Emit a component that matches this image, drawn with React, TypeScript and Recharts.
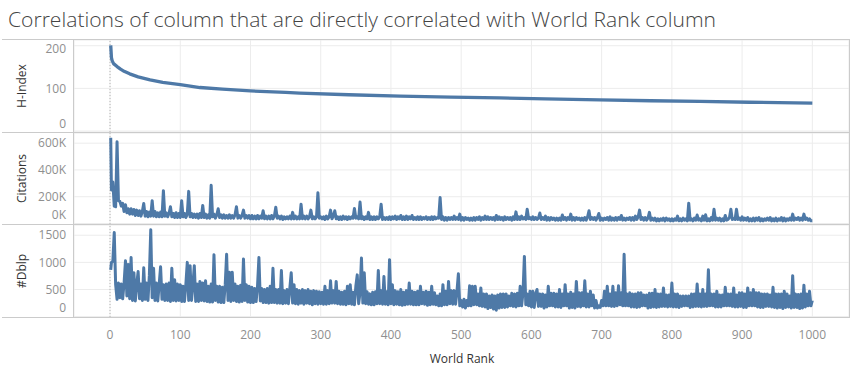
import React from 'react';
import { LineChart, Line, XAxis, YAxis, CartesianGrid, ReferenceLine } from 'recharts';

// ---------- data ----------
const hRank = [1, 2, 3, 5, 10, 15, 20, 28, 40, 57, 75, 100, 128, 160, 200, 250, 270, 340, 413, 485, 555, 620, 697, 770, 840, 910, 1000];
const hIndex = [201, 172, 165, 158, 151, 145, 140, 134, 127, 120, 114, 109, 102, 98, 94, 90.5, 89, 85, 82, 79.5, 77.5, 75.5, 73, 71, 69.5, 67.5, 65.5];

// citations (thousands) and #dblp sampled every 2 world-rank positions (rank 1, 2, 4, ... 1000)
const noisyStep = 2;
const citationsK = [
  640, 250, 310, 130, 125, 610, 170, 165, 130, 150, 90, 140, 80, 110, 70, 110, 70, 105, 60, 100,
  60, 95, 55, 90, 150, 55, 90, 50, 85, 55, 170, 55, 90, 50, 80, 50, 85, 50, 245, 55,
  80, 50, 75, 125, 50, 75, 45, 80, 45, 75, 45, 170, 50, 75, 45, 70, 240, 50, 75, 45,
  70, 45, 70, 40, 75, 45, 135, 45, 70, 40, 65, 40, 285, 50, 70, 40, 65, 110, 45, 65,
  40, 65, 40, 60, 40, 65, 40, 60, 40, 65, 125, 40, 60, 40, 60, 100, 40, 60, 40, 60,
  35, 60, 35, 55, 35, 60, 35, 55, 40, 95, 35, 55, 35, 55, 35, 60, 35, 55, 122, 40,
  55, 35, 55, 30, 50, 35, 50, 35, 55, 35, 83, 35, 55, 35, 50, 35, 144, 35, 55, 35,
  55, 35, 50, 100, 35, 50, 35, 50, 230, 40, 50, 35, 50, 30, 55, 35, 50, 100, 35, 55,
  95, 35, 50, 30, 50, 30, 55, 35, 50, 30, 50, 35, 50, 40, 112, 40, 50, 35, 160, 35,
  50, 30, 50, 35, 83, 30, 50, 30, 50, 30, 50, 35, 50, 144, 30, 45, 30, 45, 30, 50,
  30, 50, 35, 55, 30, 50, 35, 60, 30, 50, 30, 55, 30, 50, 35, 60, 30, 45, 30, 50,
  30, 50, 30, 45, 35, 50, 30, 45, 30, 50, 30, 50, 35, 45, 40, 194, 30, 50, 25, 45,
  25, 45, 30, 45, 30, 55, 30, 45, 30, 70, 25, 45, 25, 45, 30, 40, 25, 40, 25, 45,
  25, 45, 30, 50, 25, 45, 30, 55, 30, 50, 30, 45, 30, 45, 25, 60, 30, 50, 30, 45,
  25, 50, 30, 45, 30, 45, 25, 50, 30, 87, 30, 50, 30, 55, 35, 45, 30, 107, 35, 45,
  30, 50, 30, 45, 30, 40, 78, 30, 45, 30, 55, 25, 45, 25, 45, 30, 40, 25, 40, 25,
  40, 25, 63, 30, 45, 25, 45, 30, 70, 25, 45, 25, 45, 30, 40, 25, 40, 25, 45, 25,
  50, 95, 30, 45, 30, 45, 25, 45, 75, 25, 40, 25, 40, 30, 45, 25, 50, 25, 40, 25,
  45, 25, 45, 30, 60, 25, 40, 25, 40, 30, 45, 25, 45, 25, 55, 30, 50, 100, 30, 45,
  25, 45, 25, 40, 83, 25, 40, 25, 40, 20, 35, 20, 35, 25, 40, 20, 40, 25, 35, 20,
  35, 20, 35, 25, 55, 20, 35, 20, 40, 25, 35, 20, 152, 25, 35, 20, 40, 25, 63, 25,
  35, 20, 55, 25, 65, 20, 35, 20, 45, 25, 107, 25, 40, 25, 40, 20, 35, 20, 60, 25,
  30, 45, 107, 30, 35, 30, 107, 30, 40, 25, 50, 25, 40, 25, 45, 20, 35, 20, 40, 20,
  40, 25, 45, 20, 35, 20, 35, 25, 40, 25, 45, 20, 35, 20, 40, 20, 35, 25, 45, 20,
  40, 20, 35, 25, 40, 25, 70, 25, 40, 30, 45, 25, 40, 25, 70, 30, 40, 25, 35, 20,
  20,
];
const dblp = [
  860, 1000, 1020, 1550, 590, 320, 620, 350, 600, 330, 620, 1030, 380, 960, 330, 1090, 300, 810, 290, 600,
  830, 330, 600, 300, 900, 320, 620, 300, 760, 1600, 350, 890, 300, 620, 290, 600, 920, 320, 590, 300,
  600, 300, 620, 280, 890, 300, 680, 290, 600, 300, 590, 280, 560, 280, 600, 1000, 300, 940, 300, 580,
  940, 280, 600, 280, 650, 300, 620, 290, 660, 280, 560, 270, 600, 270, 1140, 300, 560, 270, 560, 260,
  540, 260, 590, 1150, 300, 820, 280, 820, 300, 600, 280, 560, 270, 580, 280, 1060, 300, 590, 270, 560,
  260, 540, 260, 520, 280, 560, 1090, 290, 520, 260, 500, 260, 520, 250, 560, 260, 890, 260, 500, 250,
  500, 250, 850, 240, 480, 250, 500, 240, 520, 810, 250, 590, 240, 500, 230, 480, 250, 500, 230, 480,
  250, 500, 240, 470, 220, 480, 240, 470, 230, 460, 240, 450, 230, 560, 230, 480, 240, 660, 250, 480,
  250, 650, 240, 470, 230, 450, 230, 470, 220, 560, 240, 590, 230, 450, 220, 560, 770, 240, 450, 1080,
  250, 810, 240, 460, 230, 420, 220, 450, 220, 460, 240, 850, 240, 480, 230, 740, 230, 460, 220, 1050,
  240, 590, 220, 480, 230, 460, 220, 500, 210, 450, 220, 480, 230, 620, 230, 470, 220, 450, 220, 470,
  220, 560, 240, 450, 230, 470, 210, 450, 220, 560, 230, 440, 220, 380, 200, 420, 200, 590, 220, 470,
  220, 650, 240, 480, 230, 480, 230, 470, 790, 200, 300, 180, 320, 160, 300, 200, 570, 200, 560, 220,
  560, 220, 420, 200, 530, 190, 420, 180, 420, 150, 380, 170, 400, 140, 380, 120, 400, 160, 420, 170,
  420, 170, 420, 180, 380, 200, 430, 190, 420, 180, 430, 200, 560, 200, 440, 1110, 220, 420, 200, 470,
  180, 470, 170, 420, 500, 190, 420, 190, 420, 160, 400, 180, 560, 200, 430, 200, 430, 180, 420, 180,
  500, 170, 420, 200, 590, 200, 420, 160, 450, 170, 420, 160, 650, 190, 440, 180, 440, 200, 660, 180,
  420, 180, 470, 200, 400, 160, 300, 160, 200, 170, 300, 200, 470, 200, 560, 200, 420, 190, 560, 190,
  440, 200, 570, 220, 440, 200, 1150, 200, 420, 200, 440, 180, 420, 180, 420, 170, 440, 180, 440, 200,
  400, 200, 400, 160, 430, 170, 430, 180, 500, 170, 420, 180, 420, 190, 530, 190, 400, 180, 400, 190,
  620, 180, 420, 180, 420, 170, 380, 190, 380, 200, 380, 200, 380, 170, 420, 180, 420, 190, 600, 190,
  420, 180, 500, 190, 420, 190, 865, 200, 420, 200, 420, 180, 470, 180, 400, 180, 400, 200, 540, 200,
  420, 200, 420, 190, 530, 180, 400, 180, 440, 190, 440, 170, 420, 170, 530, 200, 440, 200, 500, 200,
  440, 180, 440, 170, 420, 170, 420, 190, 420, 190, 400, 180, 540, 170, 420, 160, 420, 170, 420, 150,
  470, 170, 420, 180, 380, 160, 755, 170, 420, 170, 410, 150, 420, 160, 580, 180, 420, 200, 470, 200,
  300,
];

const xTicks = [0, 100, 200, 300, 400, 500, 600, 700, 800, 900, 1000];
const hTicks = [0, 100, 200];
const cTicks = [0, 200, 400, 600];
const dTicks = [0, 500, 1000, 1500];

const TITLE = 'Correlations of column that are directly correlated with World Rank column';

// ---------- build tables ----------
const rankAt = (i: number) => Math.max(1, i * noisyStep);
const hData = hRank.map((r, i) => ({ rank: r, value: hIndex[i] }));
const cData = citationsK.map((v, i) => ({ rank: rankAt(i), value: v }));
const dData = dblp.map((v, i) => ({ rank: rankAt(i), value: v }));

// ---------- style ----------
const FONT = '"Open Sans", "Noto Sans", sans-serif';
const BLUE = '#4e79a7';
const GRID = '#ececec';
const BORDER = '#cbcbcb';
const TICK = '#8f8f8f';
const X_DOMAIN: [number, number] = [-51.3, 1052.2];
const W = 849;
const AXIS_W = 74;

const makeTick = (fmt: (v: number) => string, shifts: Record<number, number>) => (props: any) => {
  const { x, y, payload } = props;
  const s = shifts[payload.value] ?? 0;
  return (
    <text x={x} y={y + s} dy="0.35em" textAnchor="end" fill={TICK} fontSize={12} fontFamily={FONT}>
      {fmt(payload.value)}
    </text>
  );
};

type PanelProps = {
  top: number;
  height: number;
  data: { rank: number; value: number }[];
  yDomain: [number, number];
  yTicks: number[];
  fmt: (v: number) => string;
  shifts: Record<number, number>;
  showX?: boolean;
  xAxisH?: number;
  lineW?: number;
};

function Panel({ top, height, data, yDomain, yTicks, fmt, shifts, showX, xAxisH = 0, lineW = 3 }: PanelProps) {
  return (
    <div style={{ position: 'absolute', left: 0, top }}>
      <LineChart width={W} height={height} data={data} margin={{ top: 0, right: 0, bottom: 0, left: 0 }}>
        <CartesianGrid stroke={GRID} strokeWidth={1} />
        <XAxis
          type="number"
          dataKey="rank"
          domain={X_DOMAIN}
          ticks={xTicks}
          allowDataOverflow
          hide={!showX}
          height={showX ? xAxisH : 0}
          axisLine={false}
          tickLine={false}
          tickSize={0}
          tickMargin={13}
          interval={0}
          tick={{ fill: TICK, fontSize: 12, fontFamily: FONT }}
        />
        <YAxis
          type="number"
          domain={yDomain}
          ticks={yTicks}
          allowDataOverflow
          width={AXIS_W}
          axisLine={false}
          tickLine={false}
          tickSize={0}
          tickMargin={8}
          interval={0}
          tick={makeTick(fmt, shifts)}
        />
        <ReferenceLine x={0} stroke="#b5b5b5" strokeDasharray="1 2" />
        <Line
          type="linear"
          dataKey="value"
          stroke={BLUE}
          strokeWidth={lineW}
          dot={false}
          isAnimationActive={false}
          strokeLinejoin="round"
        />
      </LineChart>
    </div>
  );
}

export default function App() {
  return (
    <div style={{ position: 'absolute', left: 0, top: 0, width: 854, height: 386, background: '#fff', overflow: 'hidden' }}>
      <Panel top={40} height={92} data={hData} yDomain={[-2.3, 213.4]} yTicks={hTicks} fmt={(v) => String(v)} shifts={{ 0: -7.7, 200: 2.6 }} lineW={3.3} />
      <Panel top={133} height={91} data={cData} yDomain={[-3.7, 676]} yTicks={cTicks} fmt={(v) => `${v}K`} shifts={{ 0: -8.5 }} />
      <Panel top={225} height={161} data={dData} yDomain={[-5.5, 1688]} yTicks={dTicks} fmt={(v) => String(v)} shifts={{ 0: -9 }} showX xAxisH={69} />
      <svg width={854} height={386} style={{ position: 'absolute', left: 0, top: 0, pointerEvents: 'none' }}>
        <text x={8} y={27} fontSize={20} fontWeight={300} fill="#444" fontFamily={FONT} textLength={708} lengthAdjust="spacingAndGlyphs">
          {TITLE}
        </text>
        <g stroke={BORDER} strokeWidth={1} shapeRendering="crispEdges">
          <line x1={2} y1={39.5} x2={849.5} y2={39.5} />
          <line x1={2} y1={132.5} x2={849.5} y2={132.5} />
          <line x1={2} y1={224.5} x2={849.5} y2={224.5} />
          <line x1={2} y1={317.5} x2={849.5} y2={317.5} />
          <line x1={73.5} y1={39.5} x2={73.5} y2={317.5} />
          <line x1={849.5} y1={39.5} x2={849.5} y2={317.5} />
        </g>
        <g fontFamily={FONT} fontSize={12} fill="#333" textAnchor="middle">
          <text transform="translate(26,86) rotate(-90)">H-Index</text>
          <text transform="translate(26,178.5) rotate(-90)">Citations</text>
          <text transform="translate(26,271) rotate(-90)">#Dblp</text>
          <text x={462} y={363}>World Rank</text>
        </g>
      </svg>
    </div>
  );
}
